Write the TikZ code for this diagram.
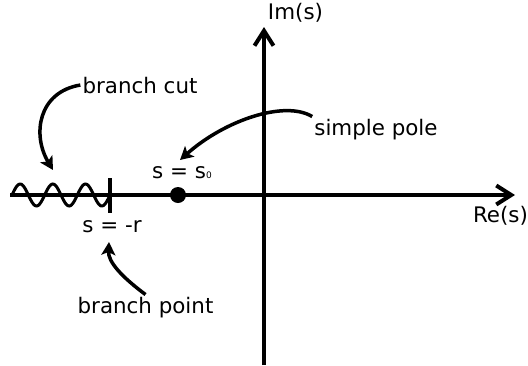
\documentclass[tikz,border=0pt]{standalone}
\usepackage{fontspec}
\setmainfont{DejaVu Sans}
\usetikzlibrary{arrows.meta}
\begin{document}
\begin{tikzpicture}[
    x=1pt, y=-1pt,
    % Axis lines
    axis/.style={
        draw, line width=4pt,
        -{Straight Barb[length=15pt, width=19pt, line width=4pt]}
    },
    % Curved pointer arrows
    pointer/.style={
        draw, line width=3.5pt,
        -{Stealth[length=13pt, width=14pt, inset=3pt]}
    },
    % Text labels
    lbl/.style={
        font=\fontsize{21.4}{25}\selectfont, inner sep=2pt
    },
    pole/.style={
        circle, fill=black, inner sep=0pt, minimum size=16pt
    }
]
\useasboundingbox (0,0) rectangle (528,365);

% ---- AXES ----
\coordinate (re_from) at (10, 195);
\coordinate (re_to)   at (515, 195);
\coordinate (im_from) at (264, 365);
\coordinate (im_to)   at (264, 27);
\draw[axis] (re_from) -- (re_to);
\draw[axis] (im_from) -- (im_to);

\node[lbl, anchor=base] (imlbl) at (295.5, 19)  {Im(s)};
\node[lbl, anchor=base] (relbl) at (500.5, 222) {Re(s)};

% ---- BRANCH CUT ----
\draw[line width=3pt, domain=12:110, samples=90, smooth]
    plot (\x, {195 - 11*sin((\x-12)/32.67*360)});

\coordinate (bp_top) at (110, 178);
\coordinate (bp_bot) at (110, 213);
\draw[line width=4pt] (bp_top) -- (bp_bot);

\node[lbl, anchor=base] (rlbl)   at (112, 232) {s = -r};
\node[lbl, anchor=base] (cutlbl) at (140, 93)  {branch cut};
\node[lbl, anchor=base] (bplbl)  at (145.5, 313) {branch point};

\coordinate (cut_tip) at (53, 170);
\draw[pointer] (cutlbl.west) .. controls (38, 92) and (32, 135) .. (cut_tip);

\coordinate (bp_tip) at (109, 242);
\draw[pointer] (bplbl.north) .. controls (122, 277) and (108, 262) .. (bp_tip);

% ---- SIMPLE POLE ----
\node[pole] (pole) at (178, 195) {};
\node[lbl, anchor=base] (s0lbl)   at (182, 178) {s = s{\fontsize{9}{9}\selectfont 0}};
\node[lbl, anchor=base] (polelbl) at (376, 135) {simple pole};

\coordinate (pole_tip) at (180, 160);
\draw[pointer] (polelbl.north west) .. controls (285, 100) and (225, 120) .. (pole_tip);

\end{tikzpicture}
\end{document}
